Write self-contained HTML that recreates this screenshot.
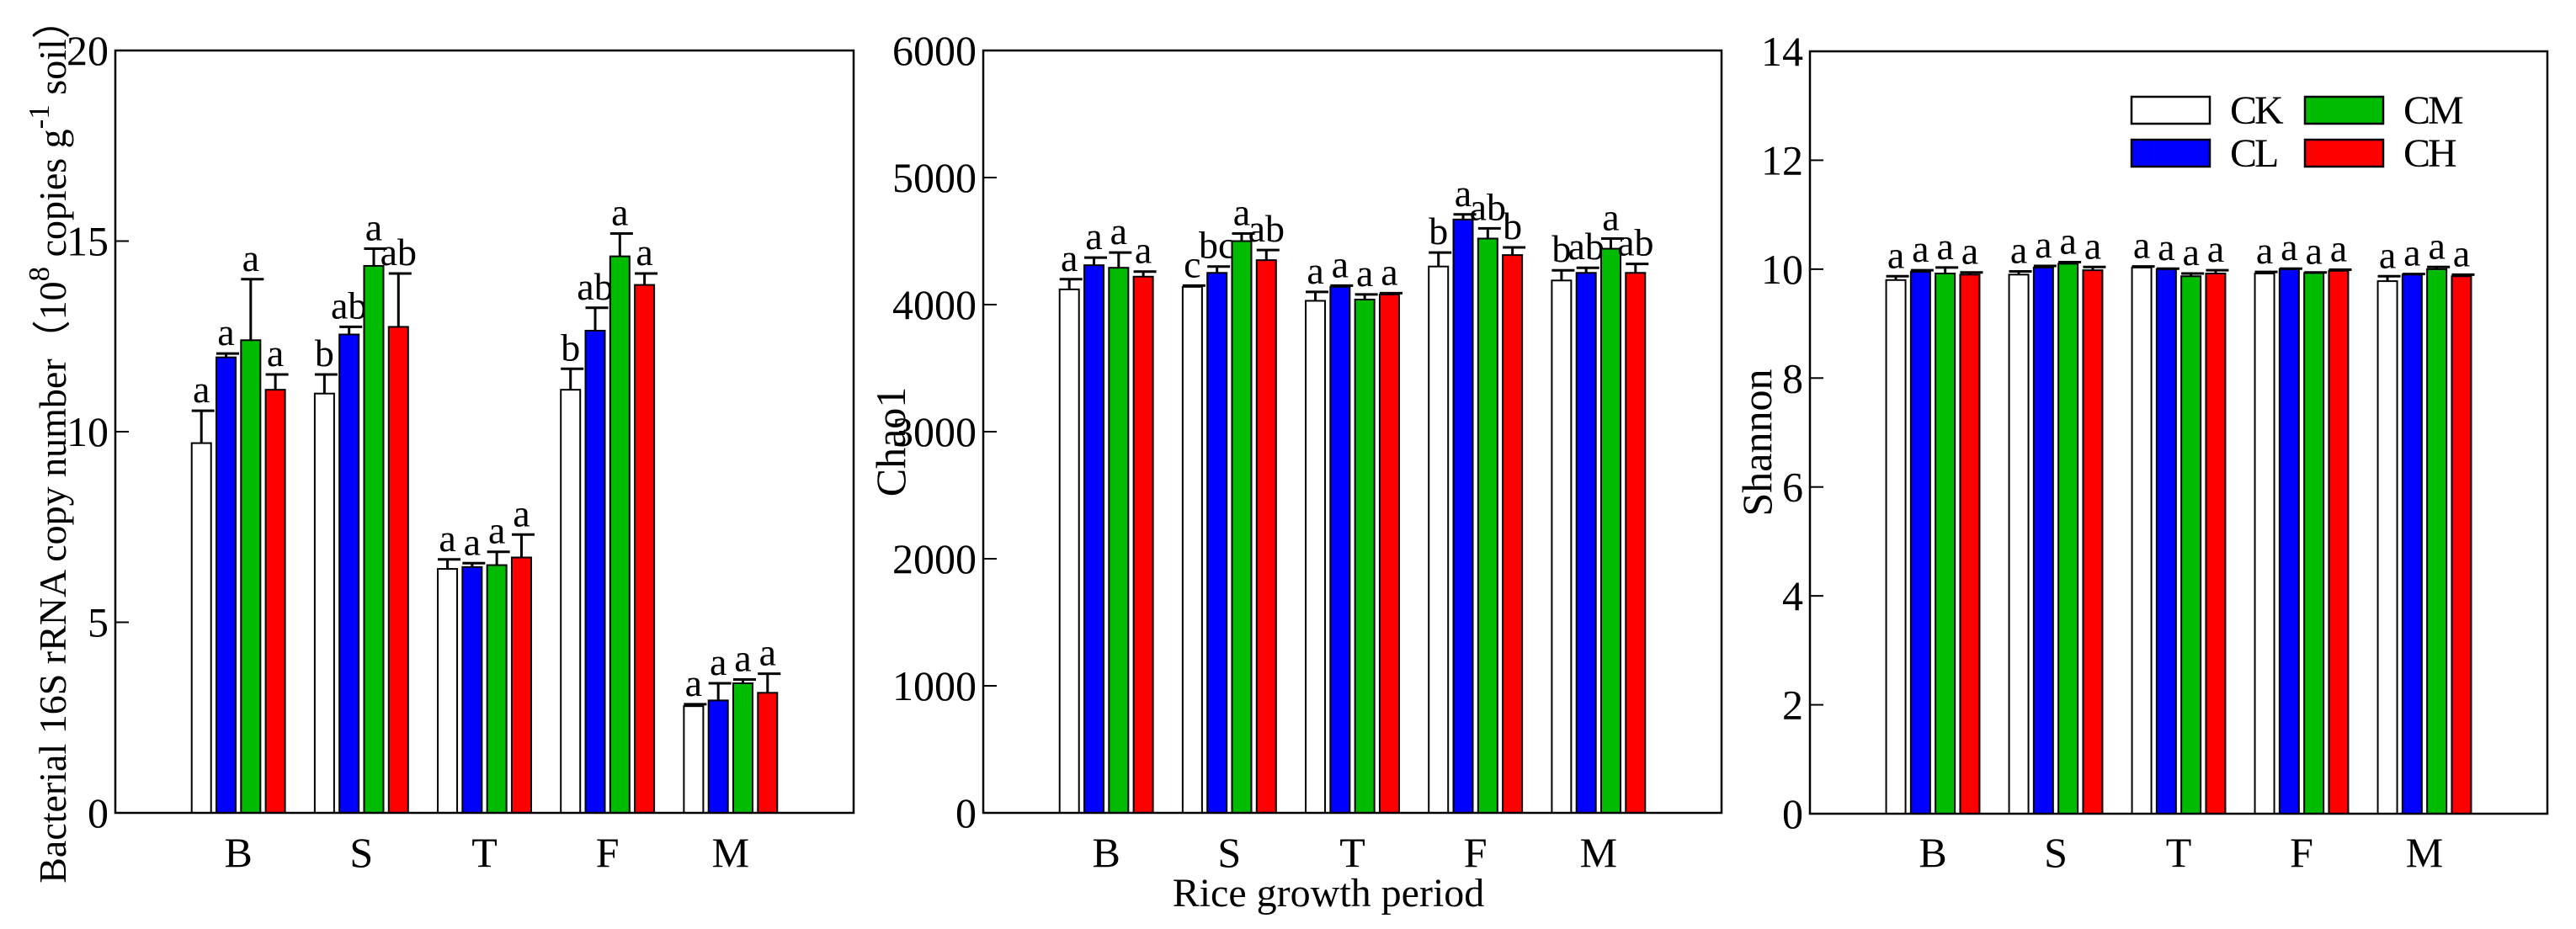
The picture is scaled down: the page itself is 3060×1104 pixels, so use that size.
<!DOCTYPE html>
<html><head><meta charset="utf-8"><style>
html,body{margin:0;padding:0;background:#fff;}
svg{display:block;font-family:"Liberation Serif",serif;}
svg text{font-family:"Liberation Serif",serif;}
</style></head><body>
<svg id="chart" width="3060" height="1104" viewBox="0 0 3060 1104" xmlns="http://www.w3.org/2000/svg"></svg>
<script>
const categories = ["B","S","T","F","M"];
const series = ["CK","CL","CM","CH"];
const colors = ["#ffffff","#0000ff","#00bb00","#ff0000"];

const p1Values = [[9.7,11.0,6.4,11.1,2.8],[11.95,12.55,6.45,12.65,2.95],[12.4,14.35,6.5,14.6,3.4],[11.1,12.75,6.7,13.85,3.15]];
const p1Err = [[10.55,11.5,6.65,11.65,2.85],[12.05,12.75,6.55,13.25,3.4],[14.0,14.8,6.85,15.2,3.5],[11.5,14.15,7.3,14.15,3.65]];
const p1Letters = [["a","b","a","b","a"],["a","ab","a","ab","a"],["a","a","a","a","a"],["a","ab","a","a","a"]];
const p1Ticks = [0,5,10,15,20];

const p2Values = [[4120,4140,4030,4300,4190],[4310,4250,4140,4670,4250],[4290,4500,4040,4520,4440],[4220,4350,4080,4390,4250]];
const p2Err = [[4200,4150,4100,4410,4270],[4370,4300,4150,4710,4290],[4410,4560,4080,4600,4520],[4260,4430,4090,4450,4320]];
const p2Letters = [["a","c","a","b","b"],["a","bc","a","a","ab"],["a","a","a","ab","a"],["a","ab","a","b","ab"]];
const p2Ticks = [0,1000,2000,3000,4000,5000,6000];

const p3Values = [[9.8,9.9,10.03,9.92,9.78],[9.95,10.03,10.0,10.0,9.9],[9.92,10.1,9.87,9.93,10.0],[9.9,9.98,9.92,9.97,9.87]];
const p3Err = [[9.87,9.96,10.05,9.95,9.87],[9.98,10.06,10.01,10.01,9.91],[10.03,10.13,9.92,9.94,10.04],[9.94,10.04,9.98,9.99,9.9]];
const p3Letters = [["a","a","a","a","a"],["a","a","a","a","a"],["a","a","a","a","a"],["a","a","a","a","a"]];
const p3Ticks = [0,2,4,6,8,10,12,14];

const NS="http://www.w3.org/2000/svg";
const svg=document.getElementById('chart');
function mk(tag,attrs,parent){const e=document.createElementNS(NS,tag);for(const k in attrs)e.setAttribute(k,attrs[k]);(parent||svg).appendChild(e);return e;}

function panel(id,L,R,T,B,ymax,ticks,vals,errs,letters,ytitle,titleX,titleSize){
  const g=mk('g',{});
  
  
  const xS=c=>L+(R-L)*(c+1)/6;
  const yS=v=>B-(B-T)*v/ymax;
  const bw=23, step=29.3;
  for(let s=0;s<4;s++){
    for(let c=0;c<categories.length;c++){
      const cx=xS(c)+(s-1.5)*step;
      const y=yS(vals[s][c]);
      const r=mk('rect',{x:cx-bw/2,y:y,width:bw,height:B-y,fill:colors[s],stroke:'#000','stroke-width':2},g);
      
      
      const ye=yS(errs[s][c]);
      const eb=mk('path',{d:`M${cx} ${y}V${ye}M${cx-bw/2} ${ye}H${cx+bw/2+4}`,stroke:'#000','stroke-width':3,fill:'none'},g);
      
      
      const t=mk('text',{x:cx,y:ye-10,'text-anchor':'middle','font-size':46},g);
      t.textContent=letters[s][c];
      
      
    }
  }
  const fr=mk('rect',{x:L,y:T,width:R-L,height:B-T,fill:'none',stroke:'#000','stroke-width':2.5},g);
  
  
  ticks.forEach(v=>{
    const y=yS(v);
    const tk=mk('line',{x1:L,x2:L+16,y1:y,y2:y,stroke:'#000','stroke-width':2},g);
    
    
    const tl=mk('text',{x:L-8,y:y+17,'text-anchor':'end','font-size':50},g);
    tl.textContent=v;
    
    
  });
  categories.forEach((c,i)=>{
    const t=mk('text',{x:xS(i),y:1030,'text-anchor':'middle','font-size':50},g);
    t.textContent=c;
    
    
  });
  const yt=mk('text',{x:0,y:0,'text-anchor':'middle','font-size':titleSize,transform:`translate(${titleX},${(T+B)/2+12}) rotate(-90)`},g);
  yt.innerHTML=ytitle;
  
  
}

panel('panel-16s-copy',137,1014,60,966,20,p1Ticks,p1Values,p1Err,p1Letters,
 'Bacterial 16S rRNA copy number（10<tspan dy="-20" font-size="35">8</tspan><tspan dy="20"> copies g</tspan><tspan dy="-20" font-size="35">-1</tspan><tspan dy="20"> soil）</tspan>',78,46);
panel('panel-chao1',1168,2045,60,966,6000,p2Ticks,p2Values,p2Err,p2Letters,'Chao1',1075,50);
panel('panel-shannon',2150,3026,61,967,14,p3Ticks,p3Values,p3Err,p3Letters,'Shannon',2104,50);

const xt=mk('text',{x:1578,y:1077,'text-anchor':'middle','font-size':48});
xt.textContent='Rice growth period';



const lg=mk('g',{});


const lpos=[[2532,115],[2532,166],[2738,115],[2738,166]];
for(let s=0;s<4;s++){
  const [x,y]=lpos[s];
  const r=mk('rect',{x:x,y:y,width:93,height:32,fill:colors[s],stroke:'#000','stroke-width':2.5},lg);
  
  
  const t=mk('text',{x:x+117,y:y+32,'font-size':48,'letter-spacing':-3},lg);
  t.textContent=series[s];
  
  
}
</script>
</body></html>
